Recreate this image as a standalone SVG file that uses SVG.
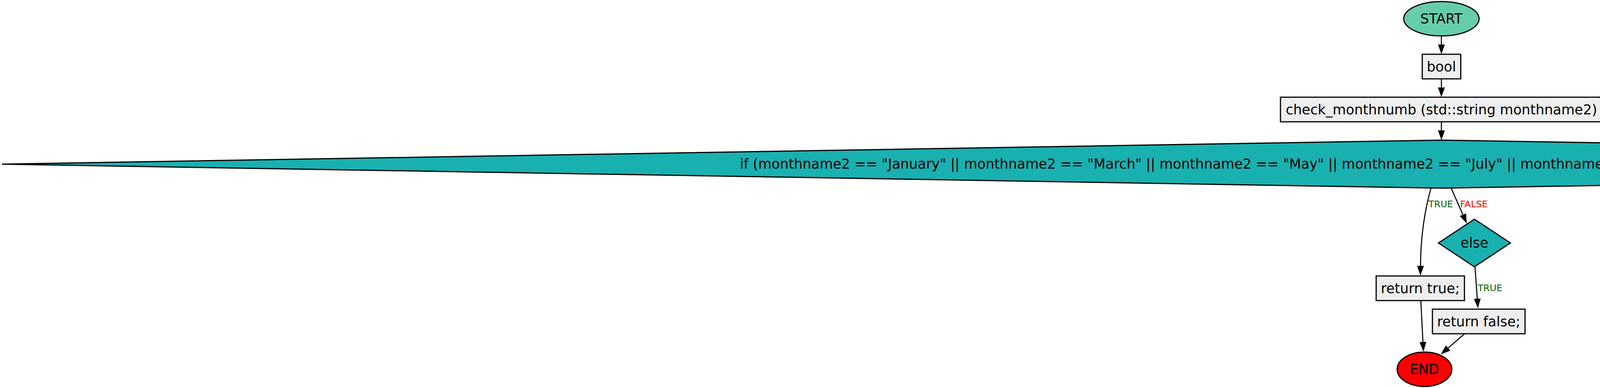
<svg xmlns="http://www.w3.org/2000/svg" width="7381" height="994" viewBox="0 0 7381 994">
<style>
  .node { stroke: #000; stroke-width: 3; }
  .box { fill: #eeeeee; }
  .cond { fill: #19b0b0; }
  .t { font-family: "DejaVu Sans", sans-serif; font-size: 35px; fill: #000; text-anchor: middle; }
  .edge { fill: none; stroke: #000; stroke-width: 2.7; marker-end: url(#arrow); }
  .lbl { font-family: "DejaVu Sans", sans-serif; font-size: 23.5px; }
  .ltrue { fill: #006400; }
  .lfalse { fill: #ff0000; }
</style>
<defs>
  <marker id="arrow" viewBox="0 0 25 17.5" markerWidth="25" markerHeight="17.5" markerUnits="userSpaceOnUse" refX="0" refY="8.75" orient="auto">
    <path d="M0,0 L25,8.75 L0,17.5 z" fill="#000"/>
  </marker>
</defs>
<rect width="7381" height="994" fill="#fff"/>
<g id="connectors">
  <path class="edge" d="M3690,92 L3690,114"/>
  <path class="edge" d="M3690,202 L3690,224"/>
  <path class="edge" d="M3690,312 L3690,334"/>
  <path class="edge" d="M3663,483 C3650,530 3637,600 3636.5,681"/>
  <path class="edge" d="M3715,482 L3745,550"/>
  <path class="edge" d="M3776,684 L3781.8,765"/>
  <path class="edge" d="M3637.3,770 L3642.7,876"/>
  <path class="edge" d="M3749.3,855 L3707.2,891.6"/>
  <text class="lbl ltrue" x="3657" y="531">TRUE</text>
  <text class="lbl lfalse" x="3738" y="531">FALSE</text>
  <text class="lbl ltrue" x="3783" y="746">TRUE</text>
</g>
<g id="start">
  <ellipse class="node" cx="3690" cy="48" rx="96.5" ry="44" fill="#66cdaa"/>
  <text class="t" x="3690" y="60">START</text>
</g>
<g id="bool">
  <rect class="node box" x="3641" y="139" width="98.5" height="63"/>
  <text class="t" x="3690" y="182.5">bool</text>
</g>
<g id="func">
  <rect class="node box" x="3278" y="249" width="825" height="63"/>
  <text class="t" x="3690" y="292.5">check_monthnumb (std::string monthname2)</text>
</g>
<g id="if">
  <polygon class="node cond" points="5,420.5 3690.5,359 7376,420.5 3690.5,482"/>
  <text class="t" x="3690" y="432">if (monthname2 == "January" || monthname2 == "March" || monthname2 == "May" || monthname2 == "July" || monthname2 == "August" || monthname2 == "October" || monthname2 == "December")</text>
</g>
<g id="else">
  <polygon class="node cond" points="3682.5,622.5 3774.5,561.5 3866.5,622.5 3774.5,683.5"/>
  <text class="t" x="3774.5" y="634">else</text>
</g>
<g id="return_true">
  <rect class="node box" x="3523" y="707" width="226" height="63"/>
  <text class="t" x="3636" y="750.5">return true;</text>
</g>
<g id="return_false">
  <rect class="node box" x="3667" y="792" width="237" height="63"/>
  <text class="t" x="3785.5" y="835.5">return false;</text>
</g>
<g id="end">
  <ellipse class="node" cx="3646.7" cy="946" rx="70" ry="44" fill="#ff0000"/>
  <text class="t" x="3646.7" y="958">END</text>
</g>
</svg>
